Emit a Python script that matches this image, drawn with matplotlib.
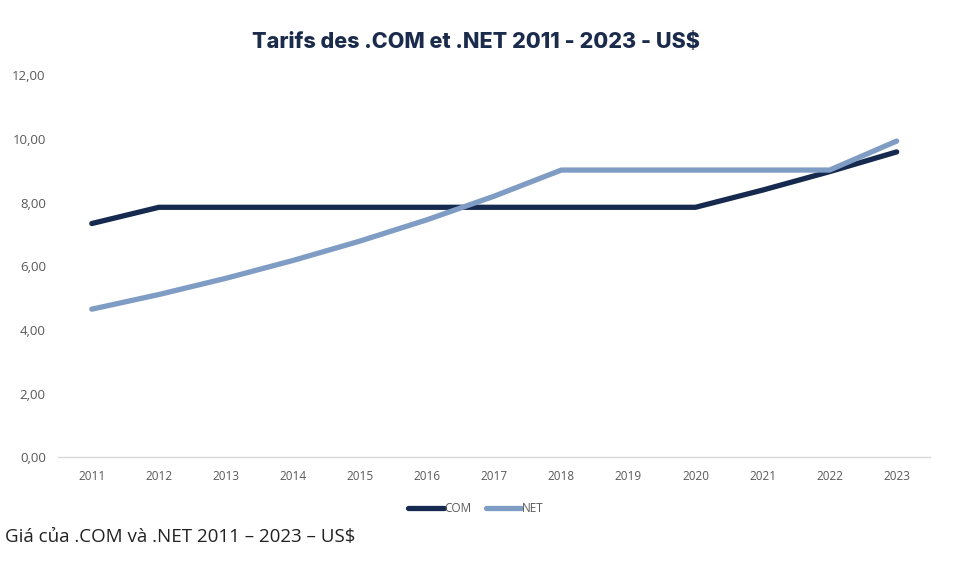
import matplotlib.pyplot as plt

years = ["2011", "2012", "2013", "2014", "2015", "2016", "2017",
         "2018", "2019", "2020", "2021", "2022", "2023"]
com_prices = [7.34, 7.85, 7.85, 7.85, 7.85, 7.85, 7.85, 7.85, 7.85, 7.85, 8.39, 8.97, 9.59]
net_prices = [4.65, 5.11, 5.62, 6.18, 6.79, 7.46, 8.20, 9.02, 9.02, 9.02, 9.02, 9.02, 9.93]
y_ticks = [0, 2, 4, 6, 8, 10, 12]

fig = plt.figure(figsize=(9.71, 5.61), dpi=100)
ax = fig.add_axes([0.06, 0.185, 0.898, 0.681])

x = list(range(len(years)))
ax.plot(x, com_prices, color="#152a4e", lw=3.8, solid_capstyle="round",
        solid_joinstyle="round", label="COM")
ax.plot(x, net_prices, color="#7f9cc4", lw=3.8, solid_capstyle="round",
        solid_joinstyle="round", label="NET")

ax.set_xlim(-0.5, len(years) - 0.5)
ax.set_ylim(0, 12)
ax.set_xticks(x)
ax.set_xticklabels(years)
ax.set_yticks(y_ticks)
ax.set_yticklabels([f"{v:.2f}".replace(".", ",") for v in y_ticks])
ax.tick_params(axis="both", length=0, labelcolor="#595959")
ax.tick_params(axis="x", pad=9, labelsize=8.5)
ax.tick_params(axis="y", pad=9, labelsize=9.5)
for lab in ax.get_xticklabels() + ax.get_yticklabels():
    lab.set_family("Open Sans")

for s in ["top", "right", "left"]:
    ax.spines[s].set_visible(False)
ax.spines["bottom"].set_color("#d9d9d9")
ax.spines["bottom"].set_linewidth(1)

fig.text(0.49, 0.925, "Tarifs des .COM et .NET 2011 - 2023 - US$",
         ha="center", va="center", fontsize=15.5, fontweight="heavy",
         color="#1b2b4b", family="Inter")

leg = fig.legend(loc="center", bbox_to_anchor=(0.49, 0.094), ncol=2, frameon=False,
                 handlelength=3.0, handletextpad=0.05, columnspacing=1.2,
                 prop={"family": "Open Sans", "size": 8.5})
for t in leg.get_texts():
    t.set_color("#595959")

fig.text(0.005, 0.043, "Giá của .COM và .NET 2011 – 2023 – US$", ha="left", va="center",
         fontsize=13.5, color="#222222", family="Open Sans")

fig.savefig("out.png", dpi=100, facecolor="white")
